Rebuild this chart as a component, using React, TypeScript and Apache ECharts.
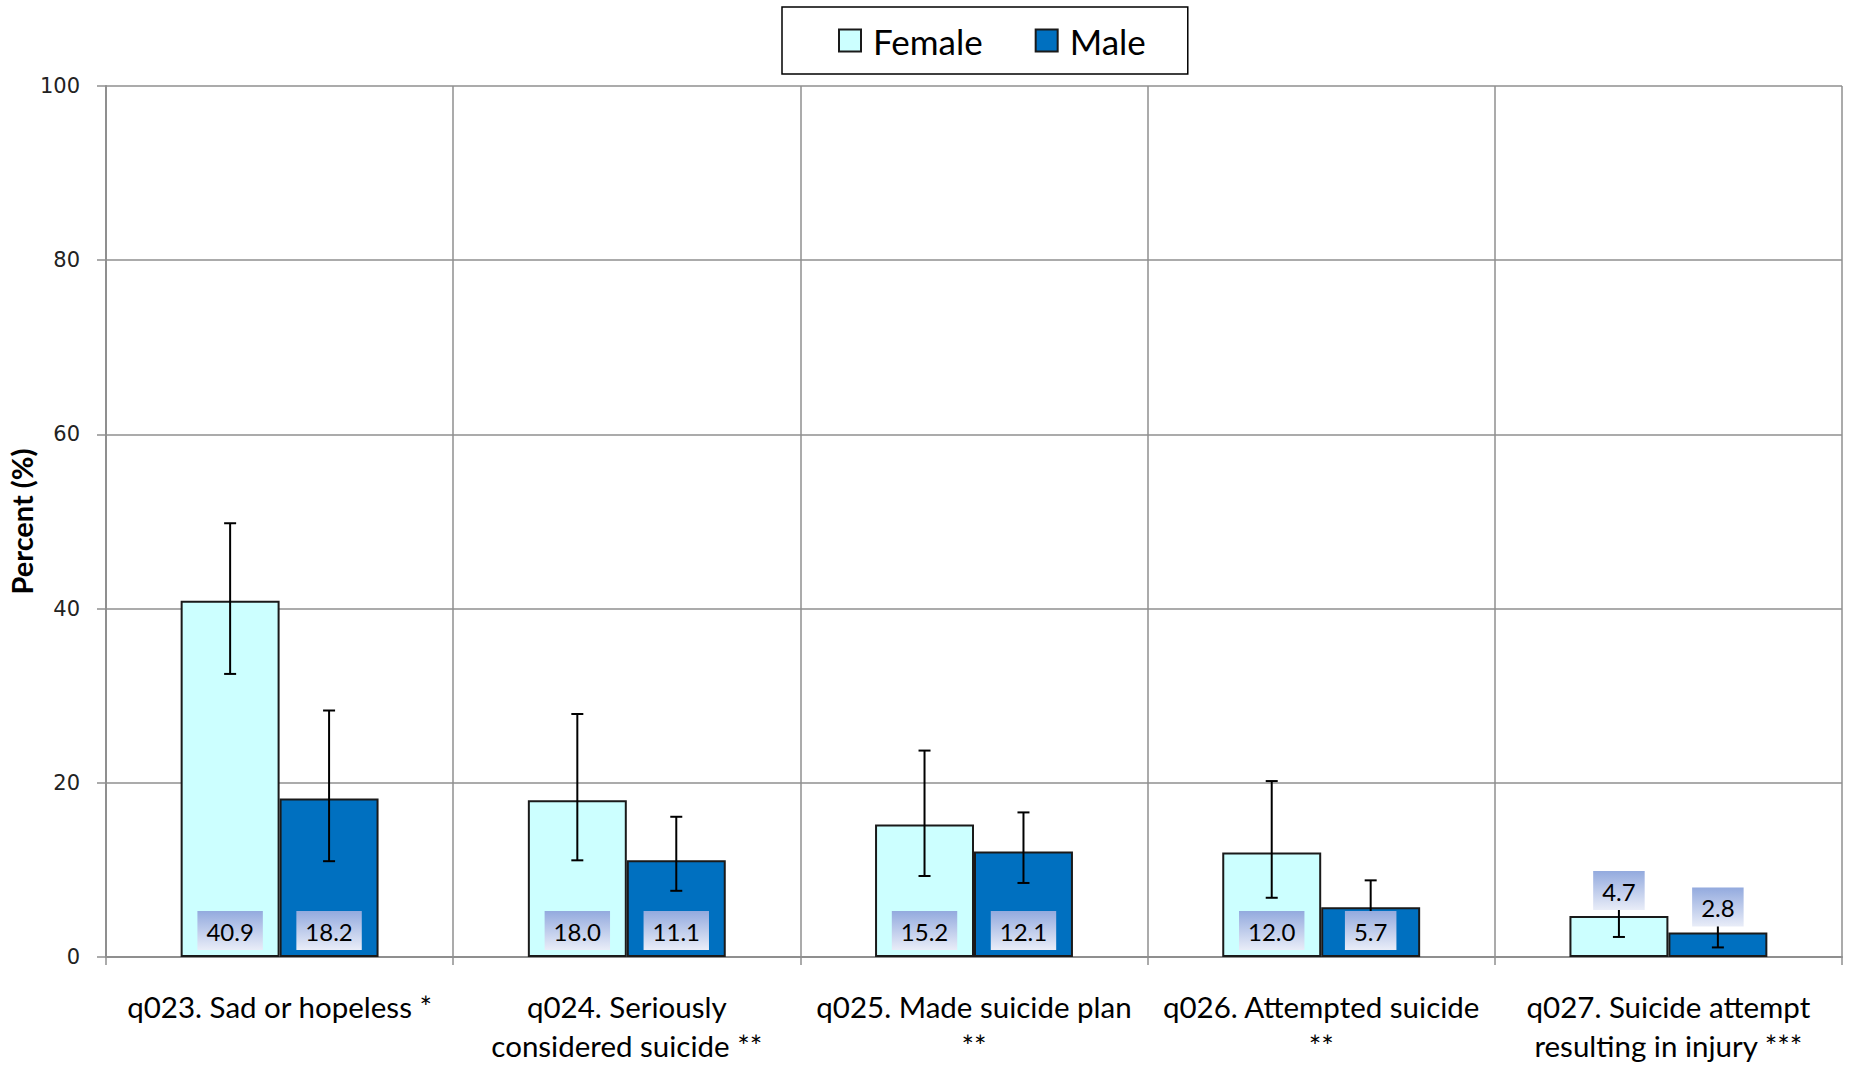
import React, { useEffect, useRef } from "react";
import * as echarts from "echarts";

const categories = [
  "q023. Sad or hopeless *",
  "q024. Seriously\nconsidered suicide **",
  "q025. Made suicide plan\n**",
  "q026. Attempted suicide\n**",
  "q027. Suicide attempt\nresulting in injury ***",
];
const seriesNames = ["Female", "Male"];
const female = [40.9, 18.0, 15.2, 12.0, 4.7];
const male = [18.2, 11.1, 12.1, 5.7, 2.8];
const femaleLow = [32.5, 11.1, 9.3, 6.8, 2.3];
const femaleHigh = [49.8, 27.9, 23.7, 20.2, 9.3];
const maleLow = [11.0, 7.6, 8.5, 3.6, 1.1];
const maleHigh = [28.3, 16.1, 16.6, 8.8, 6.8];

const BAR_FRAC = 0.285;
const GRID_COLOR = "#8f8f8f";

function errorSeries(low: number[], high: number[], sign: number) {
  return {
    type: "custom",
    z: 3,
    silent: true,
    data: low.map((lo, i) => [i, lo, high[i]]),
    encode: { x: 0, y: [1, 2] },
    renderItem: (params: any, api: any) => {
      const idx = api.value(0);
      const lo = api.value(1);
      const hi = api.value(2);
      const band = api.size([1, 0])[0];
      const cx = api.coord([idx, 0])[0] + (sign * band * BAR_FRAC) / 2;
      const yLo = api.coord([idx, lo])[1];
      const yHi = api.coord([idx, hi])[1];
      const st = { stroke: "#000", lineWidth: 2 };
      const cap = 6;
      return {
        type: "group",
        children: [
          { type: "line", shape: { x1: cx, y1: yLo, x2: cx, y2: yHi }, style: st },
          { type: "line", shape: { x1: cx - cap, y1: yHi, x2: cx + cap, y2: yHi }, style: st },
          { type: "line", shape: { x1: cx - cap, y1: yLo, x2: cx + cap, y2: yLo }, style: st },
        ],
      };
    },
  };
}

function labelSeries(values: number[], sign: number) {
  return {
    type: "custom",
    z: 4,
    silent: true,
    data: values.map((v, i) => [i, v]),
    encode: { x: 0, y: 1 },
    renderItem: (params: any, api: any) => {
      const idx = api.value(0);
      const v = api.value(1);
      const band = api.size([1, 0])[0];
      const cx = api.coord([idx, 0])[0] + (sign * band * BAR_FRAC) / 2;
      const baseY = api.coord([idx, 0])[1];
      const topY = api.coord([idx, v])[1];
      const y = baseY - topY >= 49 ? baseY - 7 : topY - 6;
      return {
        type: "text",
        x: cx,
        y: y,
        style: {
          text: v.toFixed(1),
          fontFamily: "Lato",
          fontSize: 24,
          fill: "#000",
          align: "center",
          verticalAlign: "bottom",
          padding: [8, 9, 7, 9],
          backgroundColor: new echarts.graphic.LinearGradient(0, 0, 0, 1, [
            { offset: 0, color: "#93aade" },
            { offset: 1, color: "#e9edf8" },
          ]),
        },
      };
    },
  };
}

export default function App() {
  const ref = useRef<HTMLDivElement>(null);
  useEffect(() => {
    if (!ref.current) return;
    const chart = echarts.init(ref.current, null, { renderer: "svg" });
    chart.setOption({
      animation: false,
      backgroundColor: "#fff",
      legend: {
        data: seriesNames,
        left: 782,
        top: 7,
        icon: "rect",
        itemWidth: 22,
        itemHeight: 22,
        itemGap: 52,
        borderColor: "#000",
        borderWidth: 1.5,
        padding: [16, 42, 16, 56],
        textStyle: { fontFamily: "Lato", fontSize: 35, color: "#000", padding: [0, 0, 0, 7] },
      },
      grid: { left: 106, right: 7, top: 86, bottom: 108, outerBoundsMode: "none", containLabel: false },
      xAxis: {
        type: "category",
        data: categories,
        axisLine: { lineStyle: { color: GRID_COLOR, width: 2 } },
        axisTick: { show: true, length: 8, lineStyle: { color: GRID_COLOR, width: 1.5 } },
        splitLine: { show: true, lineStyle: { color: GRID_COLOR, width: 1.5 } },
        axisLabel: {
          interval: 0,
          fontFamily: "Lato",
          fontSize: 29.5,
          color: "#000",
          lineHeight: 39,
          margin: 30,
        },
      },
      yAxis: {
        type: "value",
        min: 0,
        max: 100,
        interval: 20,
        name: "Percent (%)",
        nameLocation: "middle",
        nameGap: 70,
        nameMoveOverlap: false,
        nameTextStyle: { fontFamily: "Lato", fontWeight: "bold", fontSize: 29, color: "#000" },
        axisLine: { show: true, lineStyle: { color: GRID_COLOR, width: 2 } },
        axisTick: { show: true, length: 9, lineStyle: { color: GRID_COLOR, width: 1.5 } },
        splitLine: { show: true, lineStyle: { color: GRID_COLOR, width: 1.5 } },
        axisLabel: { fontFamily: "DejaVu Sans", fontSize: 21, color: "#222", margin: 26 },
      },
      series: [
        {
          name: seriesNames[0],
          type: "bar",
          data: female,
          barWidth: "28.5%",
          barGap: "0%",
          z: 2,
          itemStyle: { color: "#ccffff", borderColor: "#1a1a1a", borderWidth: 2 },
        },
        {
          name: seriesNames[1],
          type: "bar",
          data: male,
          barWidth: "28.5%",
          barGap: "0%",
          z: 2,
          itemStyle: { color: "#0070c0", borderColor: "#1a1a1a", borderWidth: 2 },
        },
        errorSeries(femaleLow, femaleHigh, -1),
        errorSeries(maleLow, maleHigh, 1),
        labelSeries(female, -1),
        labelSeries(male, 1),
      ],
    });
    return () => chart.dispose();
  }, []);
  return (
    <div
      ref={ref}
      style={{ position: "fixed", left: 0, top: 0, width: 1849, height: 1065 }}
    />
  );
}
